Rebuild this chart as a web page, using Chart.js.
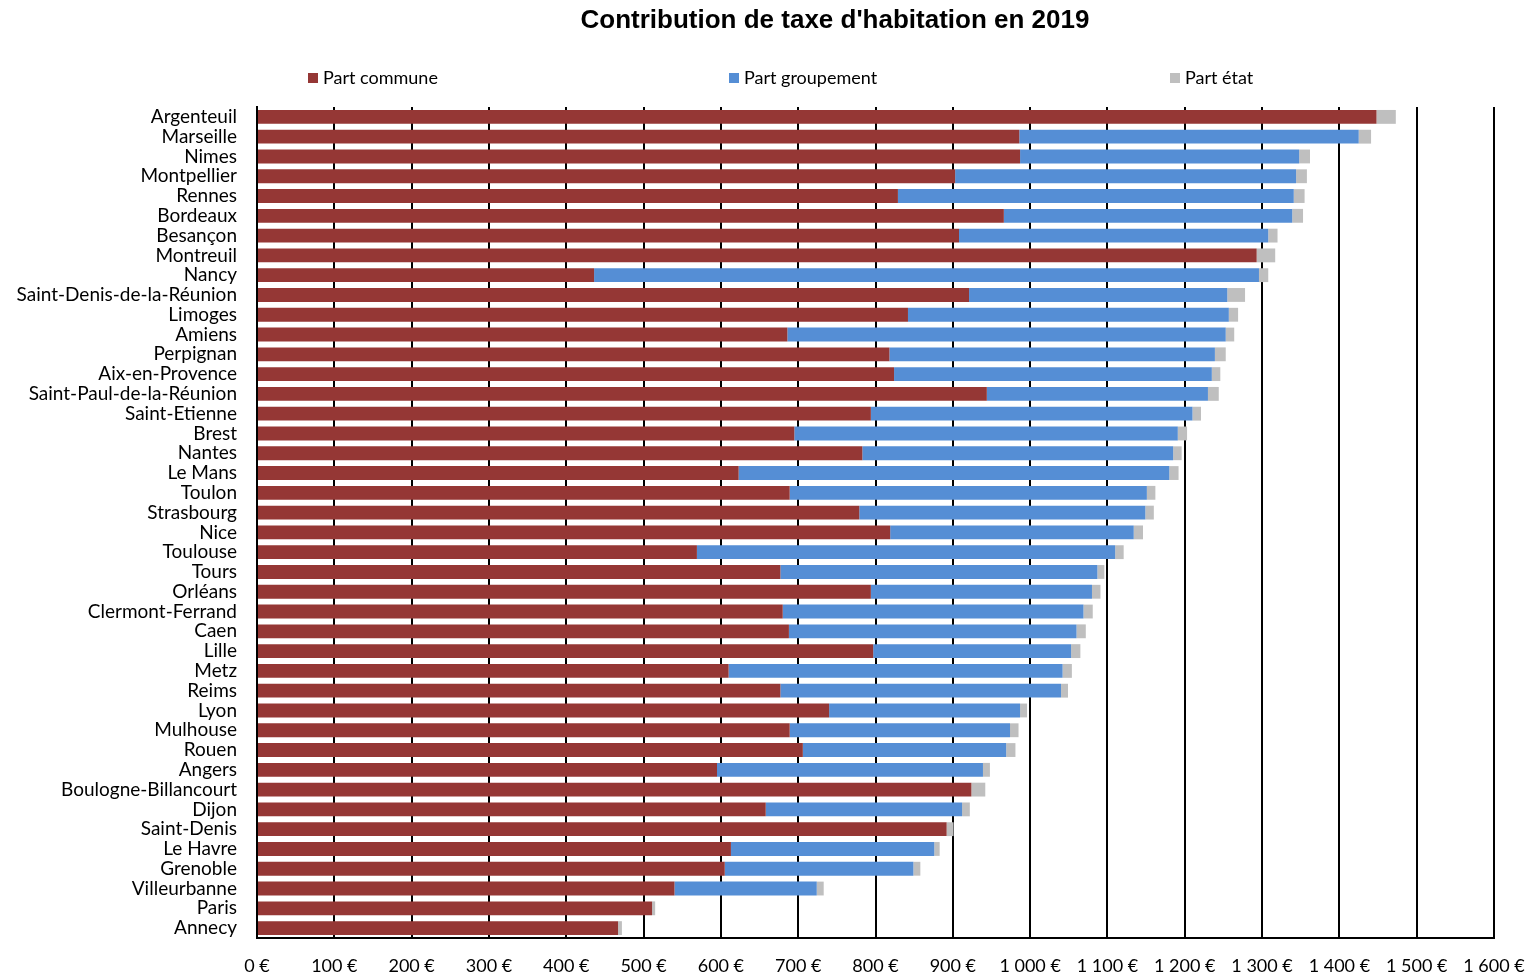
<!DOCTYPE html>
<html>
<head>
<meta charset="utf-8">
<script src="https://cdn.jsdelivr.net/npm/chart.js@4.4.0/dist/chart.umd.min.js"></script>
<style>
html,body{margin:0;padding:0;background:#fff;}
canvas{display:block;}
</style>
</head>
<body>
<canvas id="c" width="1534" height="978" style="width:1534px;height:978px"></canvas>
<script>
const chartTitle = "Contribution de taxe d'habitation en 2019";
const seriesNames = ["Part commune", "Part groupement", "Part état"];
const cities = ["Argenteuil","Marseille","Nimes","Montpellier","Rennes","Bordeaux","Besançon","Montreuil","Nancy","Saint-Denis-de-la-Réunion","Limoges","Amiens","Perpignan","Aix-en-Provence","Saint-Paul-de-la-Réunion","Saint-Etienne","Brest","Nantes","Le Mans","Toulon","Strasbourg","Nice","Toulouse","Tours","Orléans","Clermont-Ferrand","Caen","Lille","Metz","Reims","Lyon","Mulhouse","Rouen","Angers","Boulogne-Billancourt","Dijon","Saint-Denis","Le Havre","Grenoble","Villeurbanne","Paris","Annecy"];
const partCommune = [1448,986,987,903,829,966,908,1293,436,921,842,686,818,824,944,794,695,783,623,689,779,819,569,677,794,680,688,797,610,677,740,689,706,595,924,658,892,613,605,540,511,467];
const partGroupement = [0,439,361,441,512,373,400,0,860,334,415,567,421,411,286,416,496,402,557,462,370,315,541,410,286,389,372,256,432,363,247,285,263,344,0,254,0,263,244,184,0,0];
const partEtat = [25,16,14,14,14,14,12,24,12,23,12,11,14,11,14,11,12,11,12,11,11,12,11,9,11,12,12,12,12,9,9,11,12,9,18,10,9,7,9,9,4,5];
const xTicksMin = 0, xTicksMax = 1600, xTicksStep = 100;
const colors = ["#953735", "#558ED5", "#BFBFBF"];

function fmtEuro(v){
  return String(v).replace(/\B(?=(\d{3})+(?!\d))/g, ' ') + ' €';
}

const overlay = {
  id: 'overlay',
  afterDraw(chart){
    const ctx = chart.ctx;
    ctx.save();
    ctx.fillStyle = '#000';
    ctx.font = 'bold 26px "Liberation Sans", Arial, sans-serif';
    ctx.textAlign = 'center';
    ctx.textBaseline = 'middle';
    ctx.fillText(chartTitle, 835, 21);
    const legendX = [308, 729, 1170];
    ctx.font = '18px Lato, sans-serif';
    ctx.textAlign = 'left';
    chart.data.datasets.forEach((ds, i) => {
      ctx.fillStyle = ds.backgroundColor;
      ctx.fillRect(legendX[i], 73, 10, 10);
      ctx.fillStyle = '#000';
      ctx.fillText(ds.label, legendX[i] + 15, 78);
    });
    ctx.restore();
  }
};

new Chart(document.getElementById('c'), {
  type: 'bar',
  data: {
    labels: cities,
    datasets: [
      {label: seriesNames[0], data: partCommune, backgroundColor: colors[0]},
      {label: seriesNames[1], data: partGroupement, backgroundColor: colors[1]},
      {label: seriesNames[2], data: partEtat, backgroundColor: colors[2]}
    ]
  },
  options: {
    indexAxis: 'y',
    responsive: false,
    animation: false,
    devicePixelRatio: 1,
    datasets: { bar: { barPercentage: 0.7, categoryPercentage: 1.0 } },
    layout: { autoPadding: false, padding: { top: 107, right: 40, bottom: 0, left: 0 } },
    plugins: {
      legend: { display: false },
      title: { display: false },
      tooltip: { enabled: false }
    },
    scales: {
      x: {
        stacked: true,
        min: xTicksMin, max: xTicksMax,
        afterFit: (scale) => { scale.height = 40; scale.paddingRight = 0; scale.paddingLeft = 0; },
        ticks: {
          stepSize: xTicksStep,
          callback: (v) => fmtEuro(v),
          color: '#000',
          font: { family: 'Lato', size: 18 },
          padding: 17,
          maxRotation: 0,
          autoSkip: false
        },
        grid: { color: '#000', lineWidth: 2, drawTicks: false },
        border: { color: '#000', width: 2 }
      },
      y: {
        stacked: true,
        afterFit: (scale) => { scale.width = 257; },
        ticks: {
          color: '#000',
          font: { family: 'Lato', size: 19 },
          padding: 20,
          autoSkip: false
        },
        grid: { display: false, drawTicks: false },
        border: { color: '#000', width: 2 }
      }
    }
  },
  plugins: [overlay]
});
</script>
</body>
</html>
